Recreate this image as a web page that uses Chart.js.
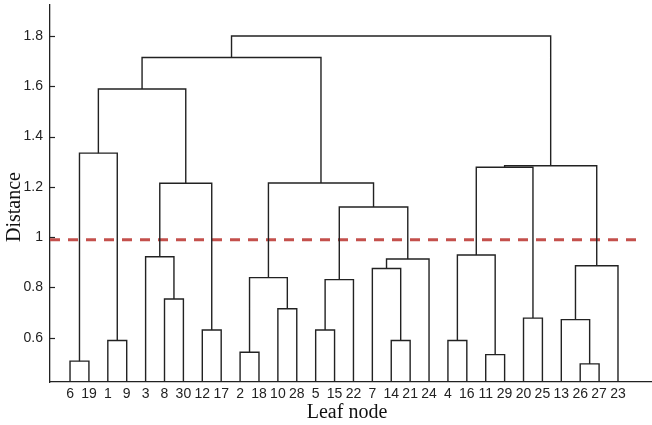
<!DOCTYPE html>
<html>
<head>
<meta charset="utf-8">
<script src="https://cdn.jsdelivr.net/npm/chart.js@4"></script>
<style>
  body{margin:0;background:#fff;}
  #wrap{width:652px;height:425px;}
</style>
</head>
<body>
<div id="wrap"><canvas id="dendro" width="652" height="425"></canvas></div>
<script>
// leaves in dendrogram order, left to right
const leafLabels = ['6','19','1','9','3','8','30','12','17','2','18','10','28','5','15','22','7','14','21','24','4','16','11','29','20','25','13','26','27','23'];
// merges: [left node, right node, distance]; leaves are 0..29, each merge adds node 30, 31, ...
const merges = [
  [0,1,0.507],[2,3,0.589],[30,31,1.334],
  [5,6,0.754],[4,33,0.922],[7,8,0.631],[34,35,1.214],[32,36,1.589],
  [9,10,0.542],[11,12,0.715],[38,39,0.839],
  [13,14,0.631],[41,15,0.831],[17,18,0.589],[16,43,0.875],[44,19,0.913],[42,45,1.120],
  [40,46,1.215],[37,47,1.714],
  [20,21,0.589],[22,23,0.533],[49,50,0.929],[24,25,0.678],[51,52,1.278],
  [27,28,0.496],[26,54,0.672],[55,29,0.886],[53,56,1.284],
  [48,57,1.800]
];
const yTickValues = [0.6,0.8,1,1.2,1.4,1.6,1.8];
const cutHeight = 0.99;
const yMin = 0.424, yMax = 1.923;
const xMin = -1.06, xMax = 30.8;

const LINE = '#222';
const nodeX = leafLabels.map((_,i)=>i);
const nodeH = leafLabels.map(()=>yMin);
const datasets = [];
merges.forEach(([a,b,h])=>{
  datasets.push({
    data:[{x:nodeX[a],y:nodeH[a]},{x:nodeX[a],y:h},{x:nodeX[b],y:h},{x:nodeX[b],y:nodeH[b]}],
    borderColor:LINE, borderWidth:1.4, pointRadius:0, tension:0, fill:false, order:0
  });
  nodeX.push((nodeX[a]+nodeX[b])/2);
  nodeH.push(h);
});
datasets.push({
  data:[{x:xMin,y:cutHeight},{x:30.05,y:cutHeight}],
  borderColor:'#c4504c', borderWidth:3, borderDash:[10,8], pointRadius:0, fill:false, order:1
});

const extras = {
  id:'extras',
  afterDraw(chart){
    const {ctx, chartArea, scales:{y}} = chart;
    ctx.save();
    ctx.strokeStyle = LINE; ctx.lineWidth = 1.2;
    y.ticks.forEach(t=>{
      const py = Math.round(y.getPixelForValue(t.value))+0.5;
      ctx.beginPath(); ctx.moveTo(chartArea.left, py); ctx.lineTo(chartArea.left+5, py); ctx.stroke();
    });
    ctx.fillStyle = '#111';
    ctx.font = '20px "Liberation Serif", "Times New Roman", serif';
    ctx.textAlign = 'center'; ctx.textBaseline = 'middle';
    ctx.fillText('Leaf node', 347, 413);
    ctx.translate(15, 207); ctx.rotate(-Math.PI/2);
    ctx.fillText('Distance', 0, 0);
    ctx.restore();
  }
};

new Chart(document.getElementById('dendro'), {
  type:'line',
  data:{ datasets },
  options:{
    responsive:false, animation:false,
    layout:{ padding:{ top:5, right:0, left:0, bottom:0 } },
    plugins:{ legend:{ display:false }, tooltip:{ enabled:false } },
    scales:{
      x:{
        type:'linear', min:xMin, max:xMax,
        grid:{ display:false, drawTicks:false },
        border:{ display:true, color:LINE, width:1.3 },
        afterBuildTicks: s => { s.ticks = leafLabels.map((_,i)=>({value:i})); },
        afterFit: s => { s.height = 43; s.paddingLeft = 0; s.paddingRight = 0; },
        ticks:{
          autoSkip:false, maxRotation:0, padding:4, color:'#222',
          font:{ family:'"Liberation Sans Narrow", "Liberation Sans", Arial, sans-serif', size:14 },
          callback: v => leafLabels[v]
        }
      },
      y:{
        min:yMin, max:yMax,
        grid:{ display:false, drawTicks:false },
        border:{ display:true, color:LINE, width:1.3 },
        afterBuildTicks: s => { s.ticks = yTickValues.map(v=>({value:v})); },
        afterFit: s => { s.width = 50; s.paddingTop = 0; s.paddingBottom = 0; },
        ticks:{
          padding:7, color:'#222',
          font:{ family:'"Liberation Sans", Arial, sans-serif', size:14 },
          callback: v => String(+v.toFixed(1))
        }
      }
    }
  },
  plugins:[extras]
});
</script>
</body>
</html>
